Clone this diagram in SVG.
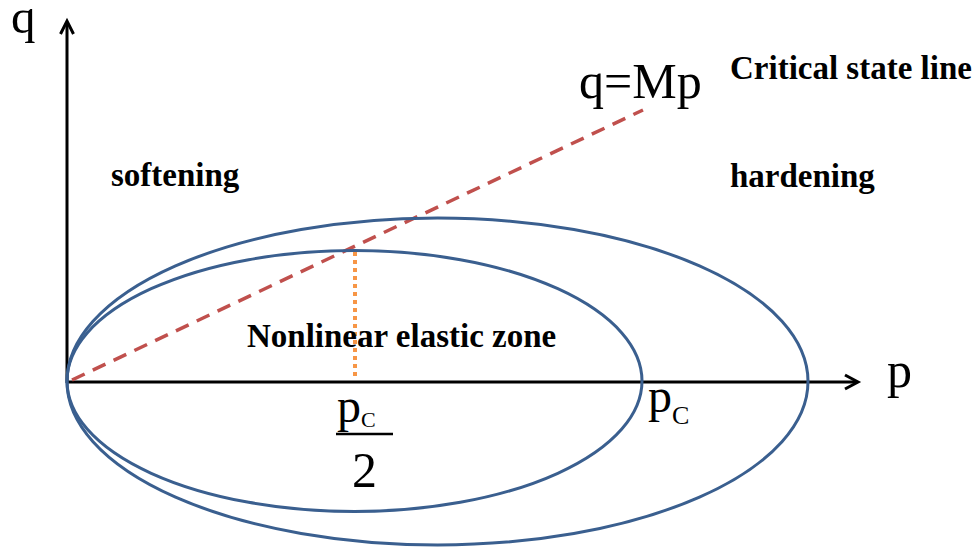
<svg xmlns="http://www.w3.org/2000/svg" width="979" height="549" viewBox="0 0 979 549">
<style>
.ell{fill:none;stroke:#3A5F8F;stroke-width:3}
.ax{fill:none;stroke:#000;stroke-width:3}
.serif{font-family:"Liberation Serif","Times New Roman",serif;fill:#000}
.lbl{font-family:"Liberation Serif","Times New Roman",serif;font-weight:bold;font-size:33px;fill:#000}
</style>
<rect width="979" height="549" fill="#fff"/>
<g id="connectors">
<line class="ax" x1="67" y1="383" x2="67" y2="22"/>
<polyline class="ax" points="60.5,34 67,21 73.5,34"/>
<line class="ax" x1="66" y1="382" x2="857" y2="382"/>
<polyline class="ax" points="845,375 858,382 845,389"/>
<line x1="72" y1="380" x2="643" y2="110" stroke="#C0504D" stroke-width="3.5" stroke-dasharray="14 9"/>
<line x1="355" y1="252" x2="355" y2="380" stroke="#F79646" stroke-width="4" stroke-dasharray="4 4"/>
</g>
<g id="inner-yield-surface"><ellipse class="ell" cx="354.5" cy="381" rx="287.5" ry="130.5"/></g>
<g id="outer-yield-surface"><ellipse class="ell" cx="437.5" cy="381.5" rx="370.5" ry="163.5"/></g>
<g id="labels">
<text class="serif" x="11" y="33" font-size="49">q</text>
<text class="serif" x="887" y="387" font-size="50">p</text>
<text class="serif" x="579" y="98" font-size="50">q=Mp</text>
<text class="lbl" x="730" y="79">Critical state line</text>
<text class="lbl" x="111" y="186">softening</text>
<text class="lbl" x="730" y="187">hardening</text>
<text class="lbl" x="247" y="347">Nonlinear elastic zone</text>
<text class="serif" x="648" y="412" font-size="48">p<tspan font-size="26" dy="12">C</tspan></text>
<text class="serif" x="337" y="422" font-size="48">p<tspan font-size="22" dy="5">C</tspan></text>
<line x1="336" y1="434" x2="393" y2="434" stroke="#000" stroke-width="2.5"/>
<text class="serif" x="352" y="487" font-size="50">2</text>
</g>
</svg>
